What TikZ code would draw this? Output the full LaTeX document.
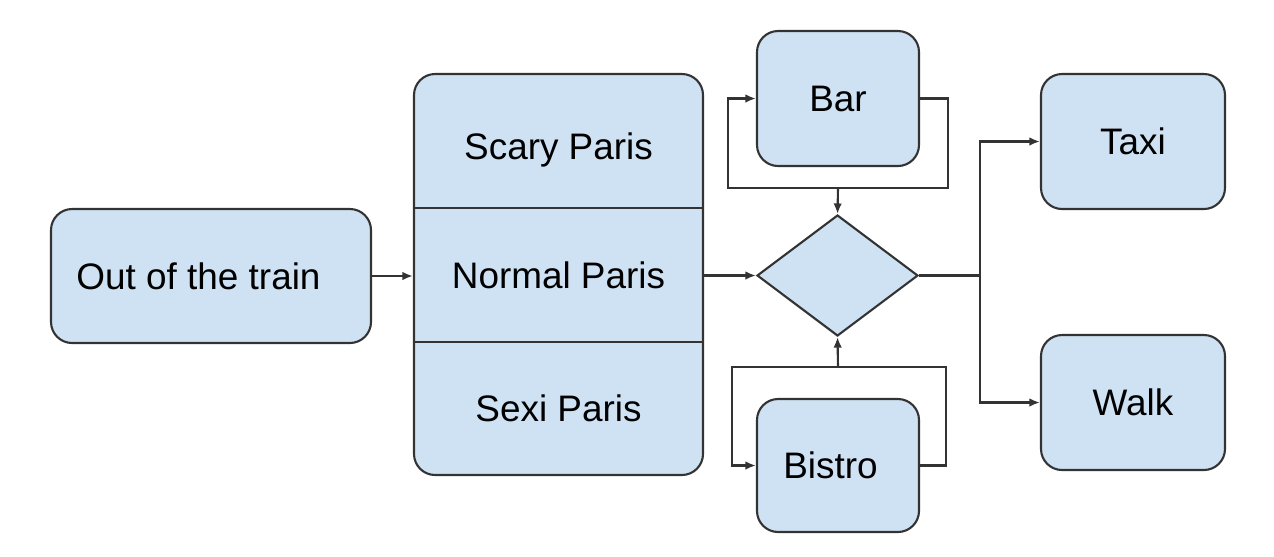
\documentclass[tikz,border=0pt]{standalone}
\usepackage{fontspec}
\setsansfont{Liberation Sans}
\usetikzlibrary{arrows.meta,positioning,shapes.geometric}
\definecolor{boxfill}{RGB}{207,226,243}
\definecolor{boxline}{RGB}{51,51,51}

\begin{document}
\begin{tikzpicture}[
  x=0.02cm, y=-0.02cm,
  font=\sffamily\fontsize{21}{25}\selectfont,
  arrow/.style={-{Latex[length=2.1mm,width=1.7mm]}, line width=1.2pt, draw=boxline},
  line/.style={line width=1.2pt, draw=boxline},
  box/.style={draw=boxline, fill=boxfill, line width=1.2pt, rounded corners=12pt, align=center, inner sep=0pt},
  part/.style={inner sep=0pt, minimum width=289*0.02cm, minimum height=133*0.02cm},
  choice/.style={diamond, draw=boxline, fill=boxfill, line width=1.2pt, inner sep=0pt, minimum width=161*0.02cm, minimum height=121*0.02cm}
]
\useasboundingbox (0,0) rectangle (1274,556);

% Start and the three Paris variants.
\node[box, minimum width=320*0.02cm, minimum height=134*0.02cm] (train) at (211,276) {Out of the train\hspace{0.5cm}};
\node[box, minimum width=289*0.02cm, minimum height=401*0.02cm] (paris) at (558.5,274.5) {};
\node[part, label={[yshift=-0.16cm]center:Scary Paris}] (scary) at (558.5,141.5) {};
\node[part] (normal) at (558.5,275.5) {Normal Paris};
\node[part] (sexi) at (558.5,408.5) {Sexi Paris};
\draw[line] (scary.south west) -- (scary.south east);
\draw[line] (normal.south west) -- (normal.south east);

% Decision with the two loops.
\node[choice] (dec) at (837.5,275.5) {};
\node[box, minimum width=162*0.02cm, minimum height=135*0.02cm] (bar) at (838,98.5) {Bar};
\node[box, minimum width=162*0.02cm, minimum height=133*0.02cm] (bistro) at (838,465.5) {Bistro\hspace{0.3cm}};
\coordinate (barloop) at (838,188);
\coordinate (bistroloop) at (838,367);

% Ways home.
\node[box, minimum width=184*0.02cm, minimum height=135*0.02cm] (taxi) at (1133,141.5) {Taxi};
\node[box, minimum width=184*0.02cm, minimum height=135*0.02cm] (walk) at (1133,402.5) {Walk};
\coordinate (split) at (980,275.5);

\draw[arrow] (train.east) -- (train.east -| paris.west);
\draw[arrow] (normal.east) -- (dec.west);

\draw[arrow] (bar.east) -- ++(28,0) -- ++(0,89.5) -- ++(-220,0) |- (bar.west);
\draw[arrow] (barloop) -- (dec.north);
\draw[arrow] (bistro.east) -- ++(26,0) -- ++(0,-98.5) -- ++(-214,0) |- (bistro.west);
\draw[arrow] (bistroloop) -- (dec.south);

\draw[line] (dec.east) -- (split);
\draw[arrow] (split) |- (taxi.west);
\draw[arrow] (split) |- (walk.west);

\end{tikzpicture}
\end{document}
